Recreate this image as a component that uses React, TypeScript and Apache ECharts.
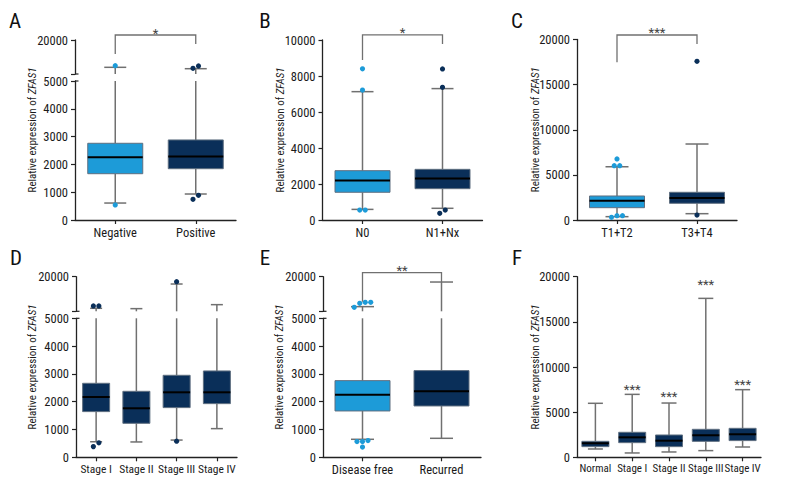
import React, { useEffect, useRef } from "react";
import * as echarts from "echarts";

const LIGHT = "#1d9bd8";
const DARK = "#0a2f59";
const WHISKER = "#707070";
const BOXSTROKE = "#5f6f80";
const AXIS = "#222222";
const TEXT = "#1a1a1a";
const FONT = "'Roboto Condensed', 'Liberation Sans Narrow', 'DejaVu Sans Condensed', sans-serif";

// ---------- data ----------
// boxes: [min whisker, Q1, median, Q3, max whisker]
const catA = ["Negative", "Positive"];
const boxA = [[610, 1665, 2255, 2760, 7950], [935, 1845, 2280, 2880, 7340]];
const outA = [[0, 8660], [0, 540], [1, 8530], [1, 7500], [1, 745], [1, 890]];
const sigA = { text: "*", from: 0, to: 1, top: 22200, legL: 13800, legR: 18200 };

const catB = ["N0", "N1+Nx"];
const boxB = [[590, 1540, 2200, 2740, 7130], [650, 1740, 2300, 2815, 7300]];
const outB = [[0, 8400], [0, 7220], [0, 555], [0, 555], [1, 8390], [1, 7370], [1, 370], [1, 555]];
const sigB = { text: "*", from: 0, to: 1, top: 10280, legL: 8890, legR: 9780 };

const catC = ["T1+T2", "T3+T4"];
const boxC = [[370, 1363, 2140, 2660, 5900], [700, 1850, 2440, 3070, 8420]];
const outC = [[0, 6760], [0, 6020], [0, 6020], [0, 480], [0, 300], [0, 480], [1, 17580], [1, 550]];
const sigC = { text: "***", from: 0, to: 1, top: 20500, legL: 17470, legR: 19500 };

const catD = ["Stage I", "Stage II", "Stage III", "Stage IV"];
const boxD = [[560, 1643, 2170, 2662, 6300], [552, 1223, 1763, 2374, 6150], [620, 1787, 2338, 2950, 16830], [1031, 1930, 2338, 3106, 7880]];
const outD = [[0, 7300], [0, 7300], [0, 384], [0, 520], [2, 17840], [2, 580]];

const catE = ["Disease free", "Recurred"];
const boxE = [[648, 1667, 2254, 2758, 7020], [683, 1847, 2374, 3118, 17690]];
const outE = [[0, 8900], [0, 6730], [0, 8460], [0, 8900], [0, 564], [0, 600], [0, 564], [0, 370]];
const sigE = { text: "**", from: 0, to: 1, top: 21730, legL: 9160, legR: 17690 };

const catF = ["Normal", "Stage I", "Stage II", "Stage III", "Stage IV"];
const boxF = [[920, 1180, 1550, 1770, 5980], [480, 1620, 2210, 2770, 6970], [590, 1180, 1840, 2470, 6010], [740, 1770, 2440, 3100, 17600], [1140, 1850, 2550, 3210, 7490]];
const starTextF = ["", "***", "***", "***", "***"];
const starValF = [0, 7640, 6820, 19270, 8200];

const yTitle = "Relative expression of {i|ZFAS1}";

// ---------- layout ----------
type Sig = { text: string; from: number; to: number; top: number; legL: number; legR: number };
type Panel = {
  letter: string; letterX: number; letterY: number;
  cats: string[]; boxes: number[][]; outs: number[][]; colors: string[];
  left: number; width: number; zeroY: number; lowerTop: number; lowerMax: number; interval: number;
  upper?: { top: number; bottom: number };
  boxW: number; capW: number; titleX: number; catFont: number;
  sig?: Sig; starTexts?: string[]; starVals?: number[];
};

const panels: Panel[] = [
  { letter: "A", letterX: 15, letterY: 21, cats: catA, boxes: boxA, outs: outA, colors: [LIGHT, DARK],
    left: 75, width: 161, zeroY: 220, lowerTop: 81, lowerMax: 5000, interval: 1000, upper: { top: 40, bottom: 74 },
    boxW: 55, capW: 22, titleX: 32, catFont: 12.5, sig: sigA },
  { letter: "B", letterX: 265, letterY: 21, cats: catB, boxes: boxB, outs: outB, colors: [LIGHT, DARK],
    left: 322.5, width: 160, zeroY: 220, lowerTop: 40, lowerMax: 10000, interval: 2000,
    boxW: 55, capW: 22, titleX: 280, catFont: 12.5, sig: sigB },
  { letter: "C", letterX: 517, letterY: 21, cats: catC, boxes: boxC, outs: outC, colors: [LIGHT, DARK],
    left: 577, width: 160, zeroY: 220, lowerTop: 39.5, lowerMax: 20000, interval: 5000,
    boxW: 55, capW: 23, titleX: 535, catFont: 12.5, sig: sigC },
  { letter: "D", letterX: 16, letterY: 258, cats: catD, boxes: boxD, outs: outD, colors: [DARK, DARK, DARK, DARK],
    left: 76, width: 161, zeroY: 457.3, lowerTop: 318.3, lowerMax: 5000, interval: 1000, upper: { top: 276.7, bottom: 311.3 },
    boxW: 27, capW: 12, titleX: 32, catFont: 11.5 },
  { letter: "E", letterX: 265, letterY: 258, cats: catE, boxes: boxE, outs: outE, colors: [LIGHT, DARK],
    left: 323, width: 158, zeroY: 457.3, lowerTop: 318.3, lowerMax: 5000, interval: 1000, upper: { top: 276.7, bottom: 311.3 },
    boxW: 55, capW: 23, titleX: 279, catFont: 12.5, sig: sigE },
  { letter: "F", letterX: 517, letterY: 258, cats: catF, boxes: boxF, outs: [], colors: [DARK, DARK, DARK, DARK, DARK],
    left: 577, width: 184, zeroY: 457.3, lowerTop: 276.7, lowerMax: 20000, interval: 5000,
    boxW: 27, capW: 15, titleX: 535, catFont: 11, starTexts: starTextF, starVals: starValF },
];

function boxRender(segMin: number, segMax: number, boxW: number, capW: number, colors: string[]) {
  return (_p: any, api: any) => {
    const i = api.value(0);
    const mn = api.value(1), q1 = api.value(2), med = api.value(3), q3 = api.value(4), mx = api.value(5);
    const cx = api.coord([i, segMin])[0];
    const Y = (v: number) => api.coord([i, v])[1];
    const clamp = (v: number) => Math.min(segMax, Math.max(segMin, v));
    const ws = { stroke: WHISKER, lineWidth: 1.5 };
    const children: any[] = [];
    const seg = (a: number, b: number) => {
      const lo = clamp(a), hi = clamp(b);
      if (hi > lo) children.push({ type: "line", shape: { x1: cx, y1: Y(lo), x2: cx, y2: Y(hi) }, style: ws });
    };
    const cap = (v: number) => {
      if (v >= segMin && v <= segMax)
        children.push({ type: "line", shape: { x1: cx - capW / 2, y1: Y(v), x2: cx + capW / 2, y2: Y(v) }, style: ws });
    };
    seg(mn, q1); seg(q3, mx); cap(mn); cap(mx);
    const b1 = clamp(q1), b2 = clamp(q3);
    if (b2 > b1)
      children.push({ type: "rect", shape: { x: cx - boxW / 2, y: Y(b2), width: boxW, height: Y(b1) - Y(b2) },
        style: { fill: colors[i], stroke: BOXSTROKE, lineWidth: 1 } });
    if (med >= segMin && med <= segMax)
      children.push({ type: "line", shape: { x1: cx - boxW / 2, y1: Y(med), x2: cx + boxW / 2, y2: Y(med) },
        style: { stroke: "#000", lineWidth: 2 } });
    return { type: "group", children };
  };
}

function outRender(colors: string[]) {
  return (_p: any, api: any) => {
    const c = api.value(0), v = api.value(1), off = api.value(2);
    const p = api.coord([c, v]);
    return { type: "circle", shape: { cx: p[0] + off, cy: p[1], r: 2.6 }, style: { fill: colors[c] } };
  };
}

// simple beeswarm: rows of points closer than 5px get spread horizontally
function swarm(outs: number[][], pxOf: (v: number) => number): number[][] {
  const res: number[][] = [];
  const cats = Array.from(new Set(outs.map((o) => o[0])));
  cats.forEach((c) => {
    const vals = outs.filter((o) => o[0] === c).map((o) => o[1]).sort((a, b) => pxOf(a) - pxOf(b));
    let row: number[] = [];
    const flush = () => {
      row.forEach((v, k) => res.push([c, v, (k - (row.length - 1) / 2) * 5.5]));
      row = [];
    };
    vals.forEach((v) => {
      if (row.length && Math.abs(pxOf(v) - pxOf(row[row.length - 1])) >= 5) flush();
      row.push(v);
    });
    flush();
  });
  return res;
}

function buildOption() {
  const grid: any[] = [], xAxis: any[] = [], yAxis: any[] = [], series: any[] = [], graphic: any[] = [];
  const labelStyle = { color: TEXT, fontFamily: FONT, fontSize: 12.5 };
  const axisLine = { show: true, lineStyle: { color: AXIS, width: 1.3 } };
  const plain = (v: number) => String(v);
  const starStyle = { fill: "#444", fontFamily: FONT, fontSize: 13, align: "center", verticalAlign: "middle" };
  panels.forEach((p) => {
    const lowerH = p.zeroY - p.lowerTop;
    const gi = grid.length;
    grid.push({ left: p.left, top: p.lowerTop, width: p.width, height: lowerH });
    xAxis.push({ type: "category", gridIndex: gi, data: p.cats, boundaryGap: true, axisLine,
      axisTick: { show: true, alignWithLabel: true, length: 4, lineStyle: { color: AXIS, width: 1.2 } },
      axisLabel: { ...labelStyle, fontSize: p.catFont, margin: 6, interval: 0 } });
    yAxis.push({ type: "value", gridIndex: gi, min: 0, max: p.lowerMax, interval: p.interval, axisLine,
      axisTick: { show: true, length: 4, lineStyle: { color: AXIS, width: 1.2 } },
      axisLabel: { ...labelStyle, margin: 7, formatter: plain }, splitLine: { show: false } });
    const boxData = p.boxes.map((b, i) => [i, ...b]);
    const upperH = p.upper ? p.upper.bottom - p.upper.top : 0;
    const pxOf = (v: number) => (v <= p.lowerMax ? (v / p.lowerMax) * lowerH : lowerH + 7 + ((v - 5000) / 15000) * upperH);
    const sw = swarm(p.outs, pxOf);
    series.push({ type: "custom", xAxisIndex: gi, yAxisIndex: gi, data: boxData, encode: { x: 0, y: 1 },
      renderItem: boxRender(0, p.lowerMax, p.boxW, p.capW, p.colors), silent: true });
    series.push({ type: "custom", xAxisIndex: gi, yAxisIndex: gi, data: sw.filter((o) => o[1] <= p.lowerMax),
      encode: { x: 0, y: 1 }, renderItem: outRender(p.colors), silent: true });
    let topIdx = gi;
    if (p.upper) {
      const ui = grid.length;
      topIdx = ui;
      grid.push({ left: p.left, top: p.upper.top, width: p.width, height: upperH });
      xAxis.push({ type: "category", gridIndex: ui, data: p.cats, show: false });
      yAxis.push({ type: "value", gridIndex: ui, min: 5000, max: 20000, interval: 15000, axisLine,
        axisTick: { show: true, length: 4, lineStyle: { color: AXIS, width: 1.2 } },
        axisLabel: { ...labelStyle, margin: 7, formatter: (v: number) => (v === 20000 ? "20000" : "") },
        splitLine: { show: false } });
      series.push({ type: "custom", xAxisIndex: ui, yAxisIndex: ui, data: boxData, encode: { x: 0, y: 1 },
        renderItem: boxRender(5000, 20000, p.boxW, p.capW, p.colors), silent: true });
      series.push({ type: "custom", xAxisIndex: ui, yAxisIndex: ui, data: sw.filter((o) => o[1] > p.lowerMax),
        encode: { x: 0, y: 1 }, renderItem: outRender(p.colors), silent: true });
      // break marks (right half of the small caps at the axis break)
      [p.upper.bottom, p.lowerTop].forEach((y) =>
        graphic.push({ type: "line", silent: true, shape: { x1: p.left, y1: y, x2: p.left + 3.5, y2: y },
          style: { stroke: AXIS, lineWidth: 1.2 } }));
    }
    if (p.sig) {
      const s = p.sig;
      series.push({ type: "custom", xAxisIndex: topIdx, yAxisIndex: topIdx, data: [[s.from, s.to, s.top, s.legL, s.legR]],
        encode: { x: 0, y: 2 }, silent: true, clip: false, itemStyle: { color: "#444" },
        renderItem: (_q: any, api: any) => {
          const a = api.coord([api.value(0), api.value(3)]);
          const b = api.coord([api.value(0), api.value(2)]);
          const c = api.coord([api.value(1), api.value(2)]);
          const d = api.coord([api.value(1), api.value(4)]);
          return { type: "group", children: [
            { type: "polyline", shape: { points: [a, b, c, d] }, style: { stroke: WHISKER, lineWidth: 1.3, fill: "none" } },
            { type: "text", x: (b[0] + c[0]) / 2, y: b[1] - 2, style: { ...starStyle, text: s.text } },
          ] };
        } });
    }
    if (p.starTexts && p.starVals) {
      const data = p.starVals.map((v, i) => [i, v]);
      const texts = p.starTexts;
      series.push({ type: "custom", xAxisIndex: gi, yAxisIndex: gi, data, encode: { x: 0, y: 1 }, silent: true, clip: false,
        itemStyle: { color: "#444" },
        renderItem: (_q: any, api: any) => {
          const i = api.value(0);
          const pt = api.coord([i, api.value(1)]);
          return { type: "group", children: [{ type: "text", x: pt[0], y: pt[1] + 1, style: { ...starStyle, text: texts[i] } }] };
        } });
    }
    // panel letter
    graphic.push({ type: "text", silent: true, x: p.letterX, y: p.letterY,
      style: { text: p.letter, fill: "#111", fontFamily: FONT, fontSize: 21, align: "center", verticalAlign: "middle" } });
    // y-axis title centred on the whole axis
    const axisTop = p.upper ? p.upper.top : p.lowerTop;
    graphic.push({ type: "text", silent: true, x: p.titleX, y: (axisTop + p.zeroY) / 2, rotation: Math.PI / 2,
      style: { text: yTitle, fill: TEXT, fontFamily: FONT, fontSize: 11, align: "center", verticalAlign: "middle",
        rich: { i: { fontStyle: "italic", fontFamily: FONT, fontSize: 11, fill: TEXT } } } });
  });
  return { animation: false, backgroundColor: "#ffffff", grid, xAxis, yAxis, series, graphic };
}

export default function App() {
  const ref = useRef<HTMLDivElement>(null);
  useEffect(() => {
    if (!ref.current) return;
    const chart = echarts.init(ref.current, undefined, { renderer: "svg" });
    chart.setOption(buildOption() as any);
    return () => chart.dispose();
  }, []);
  return <div ref={ref} style={{ position: "fixed", left: 0, top: 0, width: 792, height: 504, background: "#fff" }} />;
}
